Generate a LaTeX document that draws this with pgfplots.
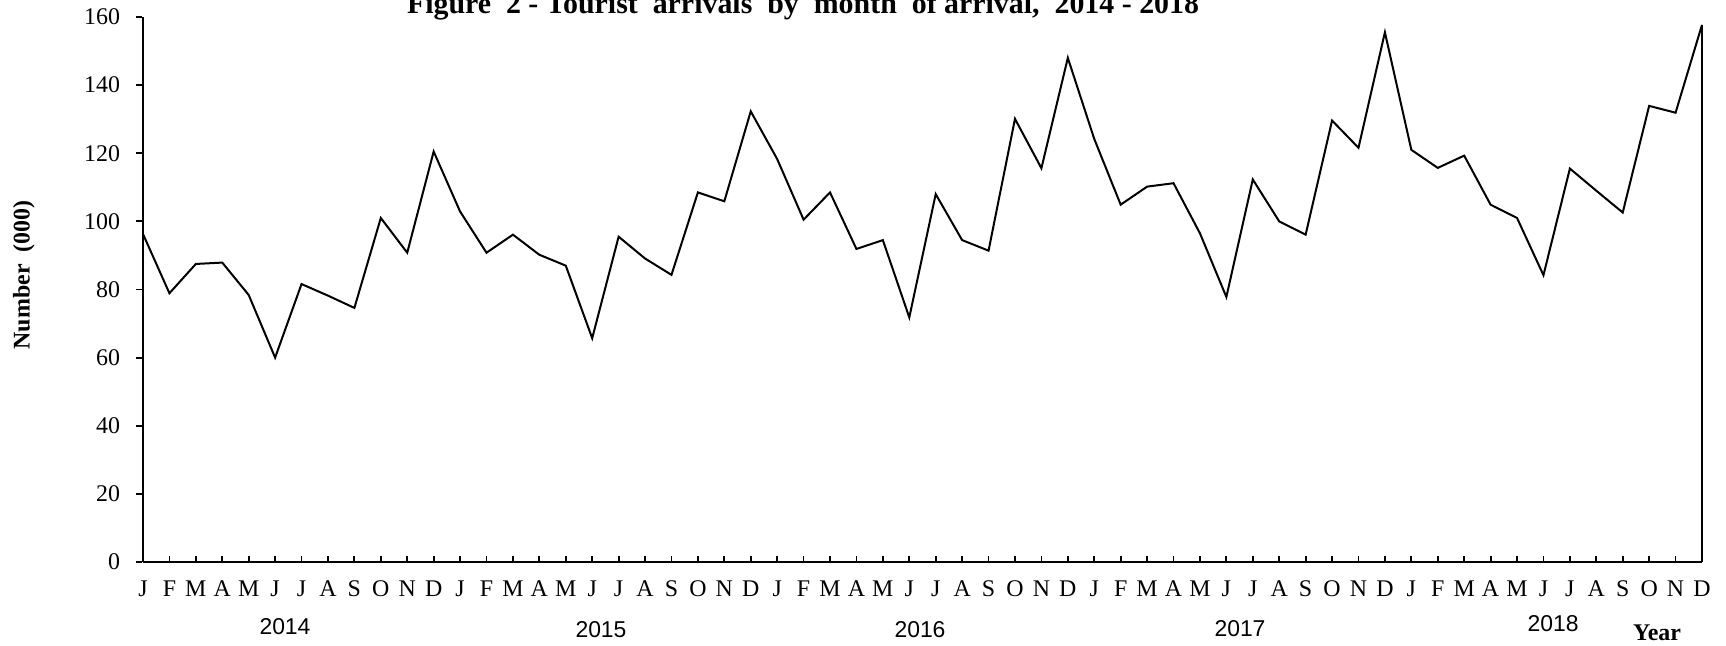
\documentclass[border=0pt]{standalone}
\usepackage{fontspec}
\setmainfont{Liberation Serif}
\newfontfamily\arialfont{Liberation Sans}
\usepackage{pgfplots}
\pgfplotsset{compat=1.18}
\pgfplotstableread{
x y
0 96.3
1 78.9
2 87.5
3 87.9
4 78.4
5 60.0
6 81.6
7 78.2
8 74.6
9 101.0
10 90.8
11 120.5
12 102.9
13 90.8
14 96.1
15 90.2
16 87.0
17 65.7
18 95.5
19 89.1
20 84.3
21 108.5
22 105.9
23 132.3
24 118.3
25 100.5
26 108.5
27 91.9
28 94.5
29 71.8
30 108.0
31 94.5
32 91.4
33 130.1
34 115.6
35 148.0
36 124.2
37 104.9
38 110.2
39 111.2
40 96.5
41 77.8
42 112.3
43 100.0
44 96.1
45 129.6
46 121.6
47 155.5
48 121.0
49 115.7
50 119.3
51 104.9
52 101.0
53 84.2
54 115.5
55 109.0
56 102.6
57 133.9
58 131.9
59 157.7
}\arrivals
\begin{document}
\begin{tikzpicture}
\useasboundingbox (-71.5bp,-42bp) rectangle (791.5bp,281bp);
\begin{axis}[
  at={(0,0)}, anchor=south west,
  scale only axis, width=779.5bp, height=272.5bp,
  xmin=0, xmax=59, ymin=0, ymax=160,
  axis lines*=left,
  axis line style={line width=1.2bp},
  xtick={0,...,59},
  xticklabels={J,F,M,A,M,J,J,A,S,O,N,D,J,F,M,A,M,J,J,A,S,O,N,D,J,F,M,A,M,J,J,A,S,O,N,D,J,F,M,A,M,J,J,A,S,O,N,D,J,F,M,A,M,J,J,A,S,O,N,D},
  ytick={0,20,...,160},
  tick align=inside,
  major tick length=3bp,
  tick style={line width=0.9bp, black},
  ytick style={xshift=-3.5bp},
  /pgf/number format/assume math mode=true,
  tick label style={font=\fontsize{12}{14}\selectfont},
  xticklabel style={yshift=-6bp},
  yticklabel style={xshift=-8bp},
  clip=false,
]
\addplot[black, line width=1bp] table[x=x,y=y] {\arrivals};
\draw[black, line width=1bp] (axis cs:59,0) -- (axis cs:59,157.7);
\end{axis}
\node[anchor=base, font=\bfseries\fontsize{15}{18}\selectfont] at (330bp,274bp) {Figure~~2 - Tourist~~arrivals~~by~~month~~of arrival,~~2014 - 2018};
\node[rotate=90, font=\bfseries\fontsize{12}{14}\selectfont] at (-59.5bp,143.5bp) {Number~~(000)};
\begin{scope}[every node/.style={font=\arialfont\fontsize{11.5}{13}\selectfont}]
\node at (71bp,-32.5bp) {2014};
\node at (229bp,-33.8bp) {2015};
\node at (388.5bp,-33.8bp) {2016};
\node at (548.5bp,-33.3bp) {2017};
\node at (705bp,-31bp) {2018};
\end{scope}
\node[font=\bfseries\fontsize{12}{14}\selectfont] at (757bp,-35.5bp) {Year};
\end{tikzpicture}
\end{document}
